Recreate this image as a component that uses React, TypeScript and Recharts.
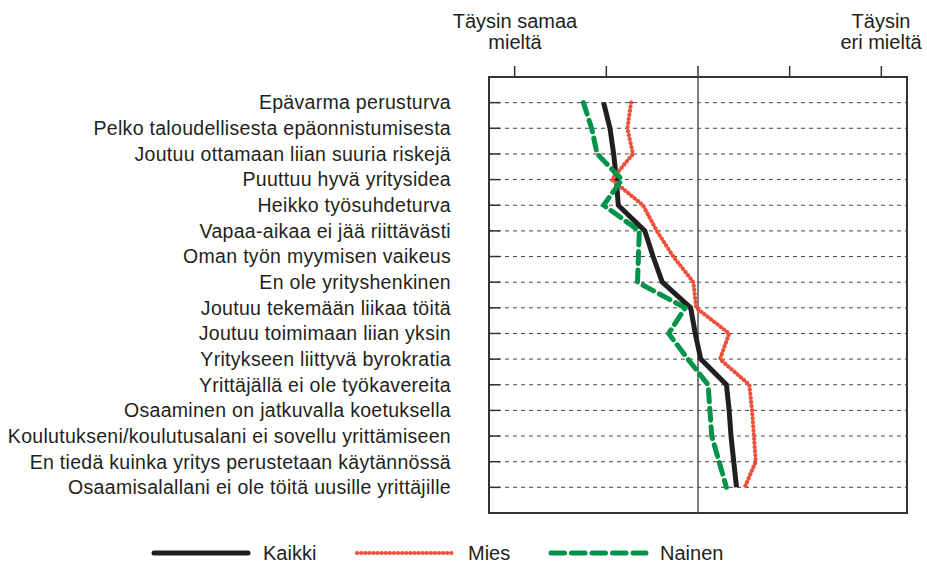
import React from "react";
import { LineChart, Line, XAxis, YAxis, CartesianGrid, ReferenceLine, ReferenceArea, Legend } from "recharts";

const categories = [
  "Epävarma perusturva",
  "Pelko taloudellisesta epäonnistumisesta",
  "Joutuu ottamaan liian suuria riskejä",
  "Puuttuu hyvä yritysidea",
  "Heikko työsuhdeturva",
  "Vapaa-aikaa ei jää riittävästi",
  "Oman työn myymisen vaikeus",
  "En ole yrityshenkinen",
  "Joutuu tekemään liikaa töitä",
  "Joutuu toimimaan liian yksin",
  "Yritykseen liittyvä byrokratia",
  "Yrittäjällä ei ole työkavereita",
  "Osaaminen on jatkuvalla koetuksella",
  "Koulutukseni/koulutusalani ei sovellu yrittämiseen",
  "En tiedä kuinka yritys perustetaan käytännössä",
  "Osaamisalallani ei ole töitä uusille yrittäjille",
];
const kaikki = [1.97, 2.04, 2.08, 2.11, 2.13, 2.42, 2.51, 2.61, 2.92, 2.97, 3.03, 3.31, 3.34, 3.36, 3.39, 3.42];
const mies = [2.27, 2.23, 2.29, 2.06, 2.4, 2.55, 2.73, 2.95, 2.98, 3.34, 3.24, 3.56, 3.59, 3.61, 3.63, 3.51];
const nainen = [1.75, 1.84, 1.9, 2.17, 1.97, 2.36, 2.35, 2.34, 2.86, 2.68, 2.89, 3.11, 3.13, 3.15, 3.23, 3.31];
const xTicks = [1, 2, 3, 4, 5];
const seriesNames = ["Kaikki", "Mies", "Nainen"];

const data = categories.map((c, i) => ({
  idx: i + 1,
  name: c,
  kaikki: kaikki[i],
  mies: mies[i],
  nainen: nainen[i],
}));
const yTicks = categories.map((_, i) => i + 1);

const FONT = "'Liberation Sans', Arial, Helvetica, sans-serif";
const TXT = "#231f20";
const BLACK = "#231f20";
const RED = "#ef4e3a";
const GREEN = "#00934a";

const YTick = (props: any) => {
  const { x, y, payload } = props;
  return (
    <g>
      <line x1={x} x2={x + 11} y1={y} y2={y} stroke="#333" strokeWidth={1.5} />
      <text x={x - 38} y={y} dy="0.35em" textAnchor="end" fontSize={19.5} letterSpacing={0.3} fill={TXT} fontFamily={FONT}>
        {categories[payload.value - 1]}
      </text>
    </g>
  );
};

const LegendContent = () => (
  <svg width={620} height={20} style={{ display: "block" }}>
    <line x1={14} x2={108} y1={10} y2={10} stroke={BLACK} strokeWidth={5} strokeLinecap="round" />
    <text x={123} y={10} dy="0.35em" fontSize={20} fill={TXT} fontFamily={FONT}>{seriesNames[0]}</text>
    <line x1={217} x2={313} y1={10} y2={10} stroke={RED} strokeWidth={4.2} strokeLinecap="round" strokeDasharray="0.1 4" />
    <text x={328} y={10} dy="0.35em" fontSize={20} fill={TXT} fontFamily={FONT}>{seriesNames[1]}</text>
    <line x1={411} x2={506} y1={10} y2={10} stroke={GREEN} strokeWidth={5} strokeLinecap="round" strokeDasharray="13.5 7" />
    <text x={520} y={10} dy="0.35em" fontSize={20} fill={TXT} fontFamily={FONT}>{seriesNames[2]}</text>
  </svg>
);

export default function App() {
  return (
    <div style={{ position: "relative", width: 927, height: 563, fontFamily: FONT, color: TXT }}>
      <style>{"body{margin:0}"}</style>
      <div style={{ position: "absolute", left: 415, top: 11, width: 200, textAlign: "center", fontSize: 20, lineHeight: "21px" }}>
        Täysin samaa<br />mieltä
      </div>
      <div style={{ position: "absolute", left: 836, top: 11, width: 90, textAlign: "center", fontSize: 20, lineHeight: "21px", whiteSpace: "nowrap" }}>
        Täysin<br />eri mieltä
      </div>
      <LineChart
        width={927}
        height={563}
        data={data}
        layout="vertical"
        margin={{ top: 65, right: 20, bottom: 50, left: 0 }}
      >
        <CartesianGrid horizontal vertical={false} stroke="#444" strokeDasharray="4 4" strokeWidth={1} />
        <XAxis
          type="number"
          orientation="top"
          domain={[0.72, 5.28]}
          ticks={xTicks}
          tickFormatter={() => ""}
          tickSize={11}
          height={12}
          tickLine={{ stroke: "#333", strokeWidth: 1.5 }}
          axisLine={false}
          allowDataOverflow
        />
        <YAxis
          type="number"
          dataKey="idx"
          domain={[0, 17]}
          ticks={yTicks}
          width={489}
          tickSize={0}
          tickMargin={0}
          axisLine={false}
          tick={<YTick />}
          interval={0}
          allowDataOverflow
        />
        <ReferenceArea x1={0.72} x2={5.28} y1={0} y2={17} fill="none" stroke="#333" strokeWidth={2} ifOverflow="visible" />
        <ReferenceLine x={3} stroke="#555" strokeWidth={1.5} />
        <Line dataKey="kaikki" stroke={BLACK} strokeWidth={5} dot={false} isAnimationActive={false} strokeLinejoin="miter" />
        <Line dataKey="mies" stroke={RED} strokeWidth={4.2} strokeLinecap="round" strokeDasharray="0.1 4" dot={false} isAnimationActive={false} />
        <Line dataKey="nainen" stroke={GREEN} strokeWidth={5} strokeLinecap="round" strokeDasharray="12 6.5" dot={false} isAnimationActive={false} />
        <Legend
          layout="horizontal"
          verticalAlign="middle"
          align="center"
          content={<LegendContent />}
          wrapperStyle={{ left: 140, top: 543, width: 620, height: 20 }}
        />
      </LineChart>
    </div>
  );
}
